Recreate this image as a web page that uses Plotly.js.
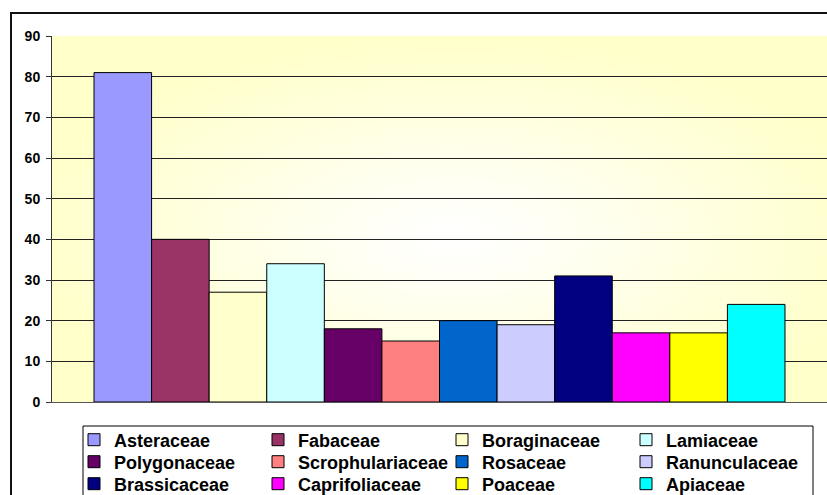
<!DOCTYPE html>
<html><head><meta charset="utf-8">
<script src="https://cdn.plot.ly/plotly-3.0.1.min.js"></script>
<style>
html,body{margin:0;padding:0;overflow:hidden;background:#fff}
#chart{position:absolute;left:0;top:0;width:827px;height:495px}
#frame{position:absolute;left:10px;top:12px;width:900px;height:600px;border:2px solid #111;box-sizing:border-box;pointer-events:none}
</style></head><body>
<div id="chart"></div><div id="frame"></div>
<script>
const families = ['Asteraceae','Fabaceae','Boraginaceae','Lamiaceae','Polygonaceae','Scrophulariaceae','Rosaceae','Ranunculaceae','Brassicaceae','Caprifoliaceae','Poaceae','Apiaceae'];
const counts = [81, 40, 27, 34, 18, 15, 20, 19, 31, 17, 17, 24];
const colors = ['#9999FF','#993366','#FFFFCC','#CCFFFF','#660066','#FF8080','#0066CC','#CCCCFF','#000080','#FF00FF','#FFFF00','#00FFFF'];
const category = ['Familles'];
const yTickValues = [0,10,20,30,40,50,60,70,80,90];
const legendRows = ['legend','legend2','legend3'];

const traces = families.map((name, i) => ({
  type: 'bar',
  name: name,
  x: category,
  y: [counts[i]],
  legend: legendRows[Math.floor(i / 4)],
  marker: {color: colors[i], line: {color: '#000', width: 1}},
  hoverinfo: 'name+y'
}));

const bgSvg = "<svg xmlns='http://www.w3.org/2000/svg' width='200' height='100' viewBox='0 0 200 100' preserveAspectRatio='none'><defs><radialGradient id='g' cx='0.52' cy='0.55' r='0.55'><stop offset='0' stop-color='#FFFFFF'/><stop offset='0.25' stop-color='#FFFFF4'/><stop offset='1' stop-color='#FFFFCA'/></radialGradient></defs><rect width='200' height='100' fill='url(#g)'/></svg>";

const font = 'Liberation Sans, Arial, Helvetica, sans-serif';
const W = 827, H = 495;

function legendRow(centerY) {
  return {
    orientation: 'h', xref: 'container', yref: 'container',
    x: 74 / W, xanchor: 'left', y: 1 - centerY / H, yanchor: 'middle',
    bgcolor: 'rgba(0,0,0,0)', borderwidth: 0,
    font: {family: font, size: 18, weight: 'bold', color: '#000'},
    entrywidth: 139, entrywidthmode: 'pixels', traceorder: 'normal',
    itemclick: false, itemdoubleclick: false
  };
}

const layout = {
  width: W, height: H,
  margin: {l: 52, r: 0, t: 36, b: 93, pad: 0},
  paper_bgcolor: '#FFFFFF',
  plot_bgcolor: 'rgba(0,0,0,0)',
  barmode: 'group',
  bargap: 0.1084,
  bargroupgap: 0,
  showlegend: true,
  font: {family: font, color: '#000'},
  xaxis: {
    type: 'category', showticklabels: false, ticks: '', showgrid: false,
    showline: true, linecolor: '#555', linewidth: 1, zeroline: false, fixedrange: true
  },
  yaxis: {
    range: [0, 90], tickvals: yTickValues, ticktext: yTickValues.map(String),
    showgrid: true, gridcolor: '#222', gridwidth: 1,
    zeroline: false, showline: true, linecolor: '#333', linewidth: 1,
    ticks: 'outside', ticklen: 5, tickcolor: '#333', tickwidth: 1,
    tickfont: {family: font, size: 14, weight: 'bold', color: '#000'},
    ticklabelstandoff: 3,
    fixedrange: true
  },
  legend: legendRow(440),
  legend2: legendRow(462),
  legend3: legendRow(484),
  shapes: [{
    type: 'rect', xref: 'paper', yref: 'paper',
    x0: (83 - 52) / 775, x1: (813 - 52) / 775,
    y0: (402 - 426) / 366, y1: (402 - 520) / 366,
    line: {color: '#000', width: 1}, fillcolor: '#FFFFFF', layer: 'above'
  }],
  images: [{
    source: 'data:image/svg+xml;charset=utf-8,' + encodeURIComponent(bgSvg),
    xref: 'paper', yref: 'paper', x: 0, y: 1, sizex: 1, sizey: 1,
    sizing: 'stretch', xanchor: 'left', yanchor: 'top', layer: 'below'
  }]
};

Plotly.newPlot('chart', traces, layout, {displayModeBar: false, staticPlot: true});
</script>
</body></html>
